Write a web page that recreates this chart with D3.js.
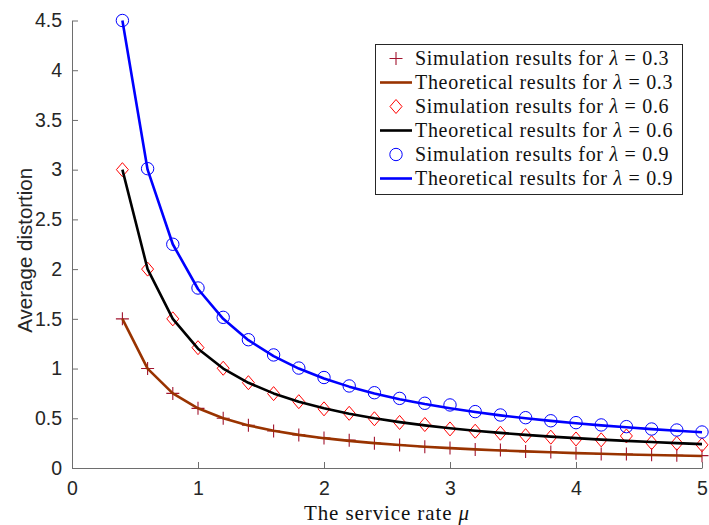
<!DOCTYPE html>
<html>
<head>
<meta charset="utf-8">
<script src="https://cdn.jsdelivr.net/npm/d3@7"></script>
<style>
  html, body { margin: 0; padding: 0; background: #fff; }
  svg { display: block; }
</style>
</head>
<body>
<svg id="chart" width="709" height="525"></svg>
<script>
/* Average distortion vs. service rate mu, three arrival rates.
   Markers = simulation, lines = theory.                      */
var mu = [0.4, 0.6, 0.8, 1.0, 1.2, 1.4, 1.6, 1.8, 2.0, 2.2, 2.4, 2.6,
          2.8, 3.0, 3.2, 3.4, 3.6, 3.8, 4.0, 4.2, 4.4, 4.6, 4.8, 5.0];

var sim03 = [1.5, 1.0, 0.75, 0.6, 0.5, 0.43, 0.372, 0.333, 0.302, 0.28, 0.25, 0.231,
             0.214, 0.2, 0.186, 0.18, 0.165, 0.16, 0.148, 0.142, 0.14, 0.132, 0.127, 0.124];
var theo03 = [1.5, 1.0, 0.75, 0.6, 0.5, 0.4286, 0.375, 0.3333, 0.3, 0.2727, 0.25, 0.2308,
              0.2143, 0.2, 0.1875, 0.1765, 0.1667, 0.1579, 0.15, 0.1429, 0.1364, 0.1304, 0.125, 0.12];

var sim06 = [3.0, 2.0, 1.5, 1.21, 1.003, 0.858, 0.748, 0.667, 0.595, 0.55, 0.495, 0.458,
             0.437, 0.393, 0.37, 0.35, 0.325, 0.31, 0.292, 0.283, 0.322, 0.255, 0.248, 0.233];
var theo06 = [3.0, 2.0, 1.5, 1.2, 1.0, 0.8571, 0.75, 0.6667, 0.6, 0.5455, 0.5, 0.4615,
              0.4286, 0.4, 0.375, 0.3529, 0.3333, 0.3158, 0.3, 0.2857, 0.2727, 0.2609, 0.25, 0.24];

var sim09 = [4.5, 3.01, 2.25, 1.81, 1.515, 1.29, 1.137, 1.005, 0.91, 0.825, 0.757, 0.70,
             0.651, 0.634, 0.567, 0.533, 0.506, 0.475, 0.456, 0.433, 0.416, 0.392, 0.382, 0.362];
var theo09 = [4.5, 3.0, 2.25, 1.8, 1.5, 1.2857, 1.125, 1.0, 0.9, 0.8182, 0.75, 0.6923,
              0.6429, 0.6, 0.5625, 0.5294, 0.5, 0.4737, 0.45, 0.4286, 0.4091, 0.3913, 0.375, 0.36];

var xTicks = [0, 1, 2, 3, 4, 5];
var yTicks = [0, 0.5, 1, 1.5, 2, 2.5, 3, 3.5, 4, 4.5];

var legendLabels = [
  ['Simulation results for ', '0.3'],
  ['Theoretical results for ', '0.3'],
  ['Simulation results for ', '0.6'],
  ['Theoretical results for ', '0.6'],
  ['Simulation results for ', '0.9'],
  ['Theoretical results for ', '0.9']
];

(function () {
  'use strict';

  var svg = d3.select('#chart');
  var margin = { left: 72, top: 20.5, right: 7, bottom: 57 };
  var W = 709, H = 525;
  var iw = W - margin.left - margin.right, ih = H - margin.top - margin.bottom;

  var x = d3.scaleLinear().domain([0, 5]).range([0, iw]);
  var y = d3.scaleLinear().domain([0, 4.5]).range([ih, 0]);

  var g = svg.append('g').attr('transform', 'translate(' + margin.left + ',' + margin.top + ')');

  var axisColor = '#262626';
  var sans = '"Liberation Sans", Arial, sans-serif';
  var serif = '"Liberation Serif", "Times New Roman", serif';

  /* ---- axes (box off, ticks inward) ---- */
  var xAxis = g.append('g').attr('transform', 'translate(0,' + ih + ')')
    .call(d3.axisBottom(x).tickValues(xTicks).tickSizeInner(-6).tickSizeOuter(0).tickPadding(13)
      .tickFormat(d3.format('d')));
  var yAxis = g.append('g')
    .call(d3.axisLeft(y).tickValues(yTicks).tickSizeInner(-6).tickSizeOuter(0).tickPadding(10)
      .tickFormat(function (d) { return d; }));

  [xAxis, yAxis].forEach(function (ax) {
    ax.select('.domain').attr('stroke', '#6e6e6e').attr('stroke-width', 1);
    ax.selectAll('.tick line').attr('stroke', '#6e6e6e');
    ax.selectAll('.tick text').attr('fill', axisColor)
      .style('font-family', sans).style('font-size', '19.5px');
  });

  /* ---- axis labels ---- */
  svg.append('text')
    .attr('transform', 'translate(32,' + (margin.top + ih / 2 + 6) + ') rotate(-90)')
    .attr('text-anchor', 'middle')
    .style('font-family', sans).style('font-size', '20.5px').attr('fill', axisColor)
    .text('Average distortion');

  var xl = svg.append('text')
    .attr('x', margin.left + iw / 2).attr('y', 520)
    .attr('text-anchor', 'middle')
    .style('font-family', serif).style('font-size', '21px').style('letter-spacing', '0.9px')
    .attr('fill', '#111');
  xl.append('tspan').text('The service rate ');
  xl.append('tspan').style('font-style', 'italic').text('\u03BC');

  /* ---- series ---- */
  var series = [
    { sim: sim03, theo: theo03, mark: 'plus',    mColor: '#A2142F', lColor: '#993300' },
    { sim: sim06, theo: theo06, mark: 'diamond', mColor: '#FF0000', lColor: '#000000' },
    { sim: sim09, theo: theo09, mark: 'circle',  mColor: '#0000FF', lColor: '#0000FF' }
  ];

  var line = d3.line()
    .x(function (d) { return x(d[0]); })
    .y(function (d) { return y(d[1]); });

  function drawMarker(sel, type, color, cx, cy) {
    if (type === 'plus') {
      sel.append('path')
        .attr('d', 'M' + (cx - 6.5) + ',' + cy + 'H' + (cx + 6.5) + 'M' + cx + ',' + (cy - 6.5) + 'V' + (cy + 6.5))
        .attr('stroke', color).attr('stroke-width', 1.1).attr('fill', 'none');
    } else if (type === 'diamond') {
      sel.append('path')
        .attr('d', 'M' + cx + ',' + (cy - 7) + 'L' + (cx + 6) + ',' + cy + 'L' + cx + ',' + (cy + 7) +
          'L' + (cx - 6) + ',' + cy + 'Z')
        .attr('stroke', color).attr('stroke-width', 1).attr('fill', 'none');
    } else {
      sel.append('circle').attr('cx', cx).attr('cy', cy).attr('r', 6.2)
        .attr('stroke', color).attr('stroke-width', 1).attr('fill', 'none');
    }
  }

  series.forEach(function (s) {
    var mg = g.append('g');
    s.sim.forEach(function (v, i) {
      drawMarker(mg, s.mark, s.mColor, x(mu[i]), y(v));
    });
    g.append('path')
      .datum(mu.map(function (m, i) { return [m, s.theo[i]]; }))
      .attr('d', line)
      .attr('fill', 'none').attr('stroke', s.lColor)
      .attr('stroke-width', 2.6).attr('stroke-linejoin', 'round');
  });

  /* ---- legend ---- */
  var lg = svg.append('g');
  lg.append('rect')
    .attr('x', 375.5).attr('y', 44.5).attr('width', 307).attr('height', 150)
    .attr('fill', '#fff').attr('stroke', '#262626').attr('stroke-width', 1);

  legendLabels.forEach(function (lab, i) {
    var cy = 58.5 + i * 24;
    var s = series[Math.floor(i / 2)];
    if (i % 2 === 0) {
      drawMarker(lg, s.mark, s.mColor, 396, cy);
    } else {
      lg.append('line').attr('x1', 380).attr('x2', 412).attr('y1', cy).attr('y2', cy)
        .attr('stroke', s.lColor).attr('stroke-width', 2.6);
    }
    var t = lg.append('text')
      .attr('x', 415).attr('y', cy + 6.5)
      .style('font-family', serif).style('font-size', '20px').style('letter-spacing', '0.7px')
      .attr('fill', '#111');
    t.append('tspan').text(lab[0]);
    t.append('tspan').style('font-style', 'italic').text('\u03BB');
    t.append('tspan').text(' = ' + lab[1]);
  });
})();
</script>
</body>
</html>
